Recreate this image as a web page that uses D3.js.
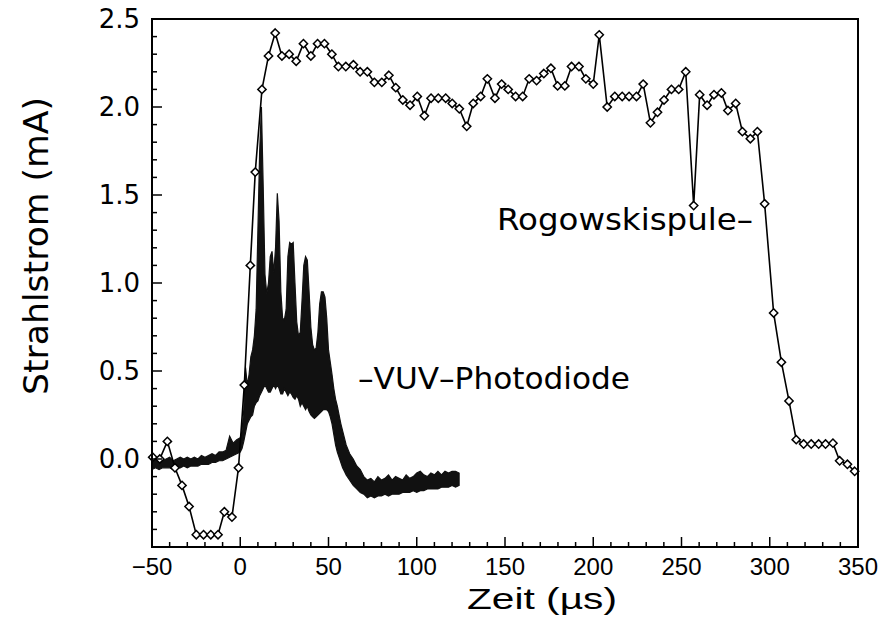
<!DOCTYPE html>
<html>
<head>
<meta charset="utf-8">
<script src="https://cdn.jsdelivr.net/npm/d3@7"></script>
<style>
  body { margin: 0; background: #fff; }
  svg { display: block; }
</style>
</head>
<body>
<div id="chart"></div>
<script>
// Rogowskispule (diamonds), time in µs, current in mA
const rogTime = [
  -49.6, -45.6, -41.3, -37.0, -33.0, -29.0, -24.9, -20.8, -16.7, -12.6, -9.0, -4.7, -1.0,
  2.3, 5.7, 8.5, 12.3, 16.0, 19.8, 23.6, 27.7, 31.7, 35.8, 40.0, 43.8, 47.7, 51.9, 55.6,
  59.8, 64.1, 67.9, 72.0, 76.0, 80.2, 84.2, 88.1, 92.1, 96.2, 100.3, 104.3, 108.1, 112.2,
  116.4, 120.1, 124.1, 128.3, 132.0, 136.2, 140.0, 144.3, 148.1, 151.8, 156.0, 160.0,
  163.7, 167.9, 172.0, 176.0, 179.8, 183.9, 187.7, 191.9, 195.8, 200.0, 203.4, 207.9,
  212.2, 216.4, 220.3, 224.5, 228.3, 232.4, 236.4, 240.1, 244.3, 248.4, 252.4, 256.9,
  260.3, 264.5, 268.4, 272.6, 276.3, 280.7, 284.5, 289.0, 293.0, 297.1, 302.2, 306.6,
  310.9, 315.0, 319.2, 323.5, 327.7, 331.6, 335.8, 339.6, 344.0, 348.1
];
const rogCurrent = [
  0.01, 0.00, 0.10, -0.05, -0.15, -0.27, -0.43, -0.43, -0.43, -0.43, -0.30, -0.33, -0.05,
  0.42, 1.10, 1.63, 2.10, 2.29, 2.42, 2.29, 2.30, 2.26, 2.36, 2.29, 2.36, 2.36, 2.30, 2.23,
  2.23, 2.24, 2.20, 2.20, 2.14, 2.14, 2.18, 2.11, 2.04, 2.01, 2.06, 1.95, 2.05, 2.05,
  2.05, 2.02, 1.99, 1.89, 2.02, 2.06, 2.16, 2.05, 2.13, 2.10, 2.06, 2.06,
  2.16, 2.15, 2.19, 2.22, 2.12, 2.12, 2.23, 2.23, 2.16, 2.13, 2.41, 2.00,
  2.06, 2.06, 2.06, 2.06, 2.13, 1.91, 1.97, 2.04, 2.10, 2.10, 2.20, 1.44,
  2.07, 2.01, 2.07, 2.08, 1.98, 2.02, 1.86, 1.82, 1.86, 1.45, 0.83, 0.55,
  0.33, 0.11, 0.085, 0.085, 0.085, 0.085, 0.09, -0.01, -0.03, -0.07
];

// VUV-Photodiode: noisy trace, read as upper / lower envelope of the black band
const vuvTime = [
  -50, -48, -46, -44, -42, -40, -38, -36, -34, -32, -30, -28, -26, -24, -22, -20, -18, -16,
  -14, -12, -10, -8, -6, -4, -2,
  0, 1, 2, 3, 4, 5, 6, 7, 8, 9, 10, 11, 12, 13, 14, 15, 16, 17, 18, 19, 20, 21, 22, 23, 24,
  25, 26, 27, 28, 29, 30, 31, 32, 33, 34, 35, 36, 37, 38, 39, 40, 41, 42, 43, 44, 45, 46,
  47, 48, 49, 50, 51, 52, 53, 54, 55, 56, 57, 58, 59, 60, 62, 64, 66, 68,
  70, 72, 74, 76, 78, 80, 82, 84, 86, 88, 90, 92, 94, 96, 98, 100, 102, 104, 106, 108,
  110, 112, 114, 116, 118, 120, 122, 124
];
const vuvHigh = [
  0.02, 0.00, 0.01, -0.01, 0.00, 0.01, -0.01, 0.00, 0.01, 0.00, 0.01, 0.00, 0.01, 0.00,
  0.02, 0.01, 0.02, 0.03, 0.02, 0.04, 0.04, 0.05, 0.13, 0.09, 0.11,
  0.12, 0.16, 0.28, 0.52, 0.42, 0.48, 0.58, 0.62, 0.70, 0.85, 1.30, 1.75, 2.00, 1.55, 1.05,
  0.94, 1.00, 1.15, 1.18, 1.06, 1.20, 1.51, 1.35, 0.95, 0.80, 0.79, 0.85, 1.15, 1.23, 1.22,
  1.23, 1.00, 0.78, 0.70, 0.72, 0.90, 1.10, 1.15, 1.13, 0.95, 0.75, 0.65, 0.62, 0.63, 0.72,
  0.88, 0.95, 0.95, 0.92, 0.80, 0.62, 0.55, 0.48, 0.40, 0.34, 0.30, 0.25, 0.20, 0.16, 0.12,
  0.08, 0.03, 0.00, -0.04, -0.06,
  -0.10, -0.12, -0.11, -0.13, -0.10, -0.12, -0.11, -0.09, -0.12, -0.10, -0.11, -0.12, -0.09,
  -0.11, -0.10, -0.08, -0.07, -0.09, -0.10, -0.08, -0.09, -0.07, -0.09, -0.07, -0.08, -0.07,
  -0.07, -0.08
];
const vuvLow = [
  -0.06, -0.05, -0.06, -0.05, -0.05, -0.05, -0.06, -0.05, -0.05, -0.04, -0.05, -0.04, -0.04,
  -0.04, -0.03, -0.03, -0.03, -0.02, -0.02, -0.01, -0.01, 0.00, 0.01, 0.02, 0.03,
  0.04, 0.06, 0.10, 0.15, 0.20, 0.22, 0.24, 0.25, 0.30, 0.32, 0.33, 0.36, 0.38, 0.40, 0.42,
  0.40, 0.38, 0.38, 0.40, 0.42, 0.40, 0.42, 0.40, 0.37, 0.37, 0.40, 0.38, 0.36, 0.38, 0.37,
  0.35, 0.34, 0.36, 0.34, 0.30, 0.32, 0.30, 0.28, 0.30, 0.27, 0.25, 0.24, 0.23, 0.24, 0.25,
  0.26, 0.27, 0.28, 0.28, 0.28, 0.27, 0.24, 0.20, 0.14, 0.08, 0.04, 0.01, -0.02, -0.05, -0.07,
  -0.09, -0.12, -0.15, -0.17, -0.19,
  -0.20, -0.22, -0.21, -0.22, -0.21, -0.21, -0.20, -0.21, -0.20, -0.20, -0.20, -0.19, -0.19,
  -0.19, -0.18, -0.19, -0.18, -0.18, -0.17, -0.17, -0.17, -0.17, -0.16, -0.16, -0.16, -0.15,
  -0.16, -0.15
];

const xMajor = [-50, 0, 50, 100, 150, 200, 250, 300, 350];
const yMajor = [0.0, 0.5, 1.0, 1.5, 2.0, 2.5];

const width = 884;
const height = 617;
const margin = { top: 19, right: 26, bottom: 70, left: 152 };

const x = d3.scaleLinear().domain([-50, 350]).range([margin.left, width - margin.right]);
const y = d3.scaleLinear().domain([-0.5, 2.5]).range([height - margin.bottom, margin.top]);

const svg = d3.select("#chart").append("svg")
  .attr("width", width)
  .attr("height", height);

// photodiode band
const vuv = vuvTime.map((t, i) => ({ t, hi: vuvHigh[i], lo: vuvLow[i] }));
const area = d3.area()
  .x((d) => x(d.t))
  .y0((d) => y(d.lo))
  .y1((d) => y(d.hi));
svg.append("path")
  .datum(vuv)
  .attr("d", area)
  .attr("fill", "#111")
  .attr("stroke", "#111")
  .attr("stroke-width", 1.2);

// Rogowski line with diamond markers
const rog = rogTime.map((t, i) => [t, rogCurrent[i]]);
const line = d3.line().x((d) => x(d[0])).y((d) => y(d[1]));
svg.append("path")
  .datum(rog)
  .attr("d", line)
  .attr("fill", "none")
  .attr("stroke", "#000")
  .attr("stroke-width", 1.6);

const diamond = d3.symbol().type(d3.symbolDiamond2).size(44);
svg.append("g")
  .selectAll("path")
  .data(rog)
  .join("path")
  .attr("d", diamond)
  .attr("transform", (d) => `translate(${x(d[0])},${y(d[1])})`)
  .attr("fill", "#fff")
  .attr("stroke", "#000")
  .attr("stroke-width", 1.5);

// frame
const x0 = x(-50), x1 = x(350), y0 = y(-0.5), y1 = y(2.5);
svg.append("rect")
  .attr("x", x0).attr("y", y1)
  .attr("width", x1 - x0).attr("height", y0 - y1)
  .attr("fill", "none")
  .attr("stroke", "#000")
  .attr("stroke-width", 2);

// x axis ticks (inward) + labels
const xTicks = d3.range(-50, 351, 10);
svg.append("g")
  .selectAll("line")
  .data(xTicks)
  .join("line")
  .attr("x1", (d) => x(d)).attr("x2", (d) => x(d))
  .attr("y1", y0)
  .attr("y2", (d) => y0 - (d % 50 === 0 ? 10 : 5))
  .attr("stroke", "#000")
  .attr("stroke-width", 1.5);

svg.append("g")
  .selectAll("text")
  .data(xMajor)
  .join("text")
  .attr("x", (d) => x(d))
  .attr("y", 575)
  .attr("text-anchor", "middle")
  .attr("font-family", "Liberation Sans, Arial, sans-serif")
  .attr("font-size", 24)
  .text((d) => (d < 0 ? "\u2212" + Math.abs(d) : d));

// y axis ticks (inward) + labels
const yTicks = d3.range(-4, 25).map((d) => d / 10);
svg.append("g")
  .selectAll("line")
  .data(yTicks)
  .join("line")
  .attr("x1", x0)
  .attr("x2", (d) => x0 + (Math.abs(Math.round(d * 10) % 5) === 0 ? 10 : 5))
  .attr("y1", (d) => y(d)).attr("y2", (d) => y(d))
  .attr("stroke", "#000")
  .attr("stroke-width", 1.5);

svg.append("g")
  .selectAll("text")
  .data(yMajor)
  .join("text")
  .attr("x", 140)
  .attr("y", (d) => y(d))
  .attr("dy", "0.36em")
  .attr("text-anchor", "end")
  .attr("font-family", "DejaVu Sans, sans-serif")
  .attr("font-size", 26)
  .text((d) => d3.format(".1f")(d));

// axis titles
svg.append("text")
  .attr("transform", "translate(48,246) rotate(-90)")
  .attr("text-anchor", "middle")
  .attr("font-family", "DejaVu Sans, sans-serif")
  .attr("font-size", 33)
  .attr("textLength", 298)
  .attr("lengthAdjust", "spacingAndGlyphs")
  .text("Strahlstrom (mA)");

svg.append("text")
  .attr("x", 542)
  .attr("y", 609)
  .attr("text-anchor", "middle")
  .attr("font-family", "Liberation Sans, Arial, sans-serif")
  .attr("font-size", 30)
  .attr("textLength", 150)
  .attr("lengthAdjust", "spacingAndGlyphs")
  .text("Zeit (\u00b5s)");

// annotations
svg.append("text")
  .attr("x", 497)
  .attr("y", 230)
  .attr("font-family", "DejaVu Sans, sans-serif")
  .attr("font-size", 30)
  .attr("textLength", 256)
  .attr("lengthAdjust", "spacingAndGlyphs")
  .text("Rogowskispule\u2013");

svg.append("text")
  .attr("x", 358)
  .attr("y", 389)
  .attr("font-family", "DejaVu Sans, sans-serif")
  .attr("font-size", 30)
  .attr("textLength", 272)
  .attr("lengthAdjust", "spacingAndGlyphs")
  .text("\u2013VUV\u2013Photodiode");
</script>
</body>
</html>
